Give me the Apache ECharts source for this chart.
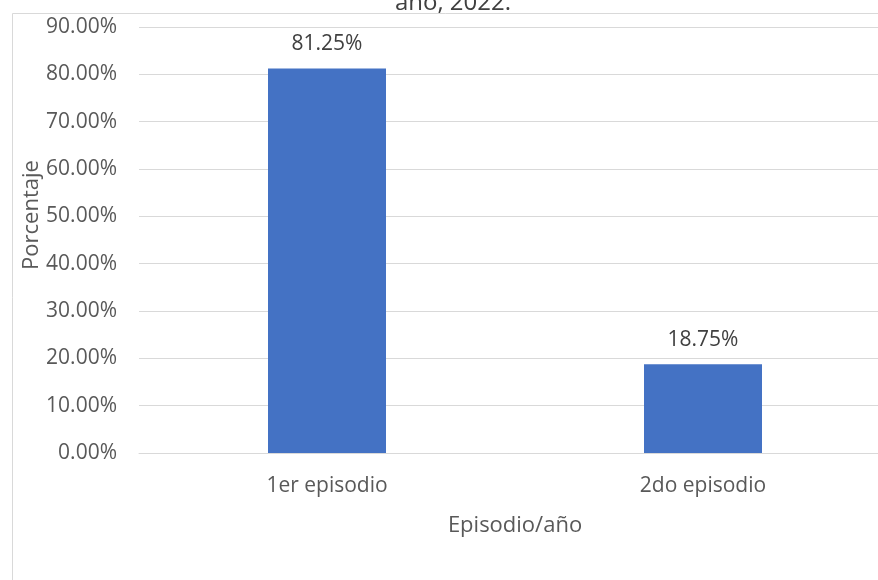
<!DOCTYPE html>
<html>
<head>
<meta charset="utf-8">
<script src="https://cdn.jsdelivr.net/npm/echarts@6/dist/echarts.min.js"></script>
<style>
  html, body { margin: 0; padding: 0; background: #ffffff; }
  #chart { width: 878px; height: 580px; }
</style>
</head>
<body>
<div id="chart"></div>
<script>
// Episodes and their share of cases (percent)
var categories = ['1er episodio', '2do episodio'];
var percentages = [81.25, 18.75];
var yTicks = [0, 10, 20, 30, 40, 50, 60, 70, 80, 90];

var titleText = 'año, 2022.';
var xAxisTitle = 'Episodio/año';
var yAxisTitle = 'Porcentaje';

var FONT = '"Open Sans", "DejaVu Sans", sans-serif';
var TEXT_COLOR = '#595959';

var chart = echarts.init(document.getElementById('chart'), null, { renderer: 'canvas' });

chart.setOption({
  animation: false,
  backgroundColor: '#ffffff',
  textStyle: { fontFamily: FONT },
  graphic: [
    {
      type: 'rect',
      left: 10, top: 11,
      shape: { width: 900, height: 600 },
      style: { fill: 'none', stroke: '#d9d9d9', lineWidth: 1 },
      silent: true
    },
    {
      type: 'text',
      x: 453, y: 15,
      style: {
        text: titleText,
        font: '24px ' + FONT,
        fill: '#404040',
        align: 'center',
        verticalAlign: 'bottom'
      }
    },
    {
      type: 'text',
      x: 32, y: 215,
      rotation: Math.PI / 2,
      style: {
        text: yAxisTitle,
        font: '22px ' + FONT,
        fill: TEXT_COLOR,
        align: 'center',
        verticalAlign: 'middle'
      }
    }
  ],
  // plot area runs a little past the right edge of the canvas
  grid: {
    left: 139, width: 752, top: 27, bottom: 127,
    containLabel: false,
    outerBoundsMode: 'none'
  },
  xAxis: {
    type: 'category',
    data: categories,
    name: xAxisTitle,
    nameLocation: 'middle',
    nameGap: 62,
    nameTextStyle: { fontSize: 22, color: TEXT_COLOR, fontFamily: FONT },
    axisLine: { show: true, lineStyle: { color: '#d9d9d9', width: 1 } },
    axisTick: { show: false },
    axisLabel: { fontSize: 21, color: TEXT_COLOR, margin: 23, fontFamily: FONT }
  },
  yAxis: {
    type: 'value',
    min: yTicks[0],
    max: yTicks[yTicks.length - 1],
    interval: yTicks[1] - yTicks[0],
    axisLine: { show: false },
    axisTick: { show: false },
    splitLine: { show: true, lineStyle: { color: '#d9d9d9', width: 1 } },
    axisLabel: {
      fontSize: 21,
      color: TEXT_COLOR,
      margin: 22,
      fontFamily: FONT,
      formatter: function (v) { return v.toFixed(2) + '%'; }
    }
  },
  series: [
    {
      type: 'bar',
      data: percentages,
      barWidth: 118,
      itemStyle: { color: '#4472c4' },
      label: {
        show: true,
        position: 'top',
        distance: 14,
        fontSize: 21,
        color: '#404040',
        fontFamily: FONT,
        formatter: function (p) { return p.value.toFixed(2) + '%'; }
      }
    }
  ]
});
</script>
</body>
</html>
